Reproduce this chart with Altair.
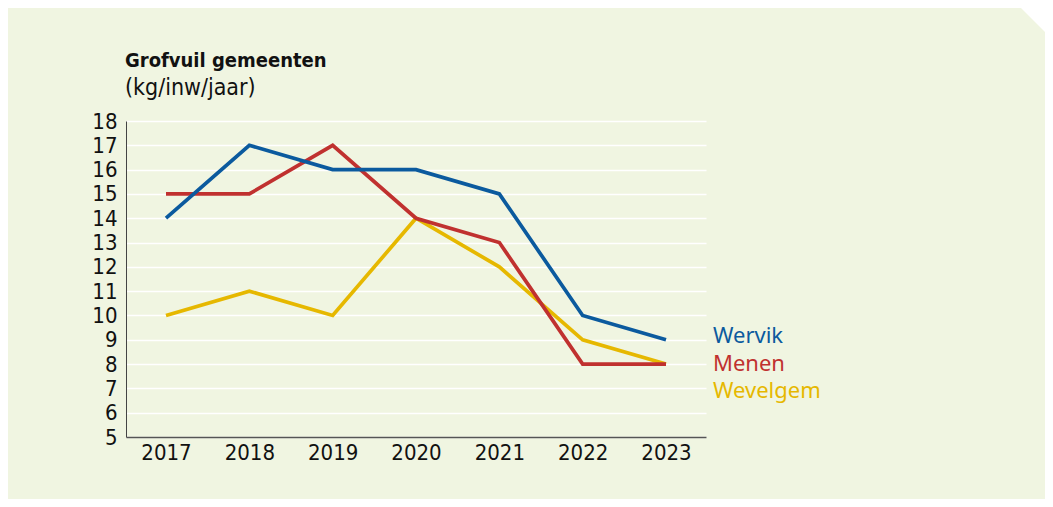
import altair as alt
import pandas as pd

years = ["2017", "2018", "2019", "2020", "2021", "2022", "2023"]
wervik = [14, 17, 16, 16, 15, 10, 9]
menen = [15, 15, 17, 14, 13, 8, 8]
wevelgem = [10, 11, 10, 14, 12, 9, 8]
series = ["Wervik", "Menen", "Wevelgem"]
colors = ["#0b5a9e", "#c0312f", "#e6b800"]

rows = []
for name, vals in [("Wevelgem", wevelgem), ("Menen", menen), ("Wervik", wervik)]:
    for yr, v in zip(years, vals):
        rows.append({"jaar": yr, "gemeente": name, "waarde": v})
df = pd.DataFrame(rows)

color_expr = " : ".join(
    f"datum.label == '{s}' ? '{c}'" for s, c in zip(series[:-1], colors[:-1])
) + f" : '{colors[-1]}'"

FONT = "DejaVu Sans Condensed"

lines = alt.Chart(df).mark_line(strokeWidth=3.7).encode(
    x=alt.X(
        "jaar:O",
        scale=alt.Scale(type="point", padding=0.48),
        axis=alt.Axis(
            title=None, labelAngle=0, ticks=False, grid=False,
            domainColor="#555555", domainWidth=1.5, labelPadding=5,
            labelFont=FONT, labelFontSize=22, labelColor="#111111", zindex=1,
        ),
    ),
    y=alt.Y(
        "waarde:Q",
        scale=alt.Scale(domain=[5, 18], nice=False, zero=False),
        axis=alt.Axis(
            title=None, values=list(range(5, 19)), ticks=False, grid=True,
            gridColor="white", gridWidth=1.5, domainColor="#444444", domainWidth=1,
            labelPadding=9, labelFont=FONT, labelFontSize=22, labelColor="#111111",
        ),
    ),
    color=alt.Color(
        "gemeente:N",
        scale=alt.Scale(domain=series, range=colors),
        legend=alt.Legend(
            title=None, orient="none", legendX=565, legendY=204,
            symbolSize=0, symbolStrokeWidth=0, symbolOpacity=0, labelOffset=0,
            labelFont="Noto Sans", labelFontSize=22, rowPadding=5.5, padding=0,
            labelColor={"expr": color_expr},
        ),
    ),
)

corner = alt.Chart(pd.DataFrame({"c": [0]})).mark_point(
    shape="M -1 -1 L 1 -1 L 1 1 Z", filled=True, color="white", opacity=1, size=576
).encode(x=alt.value(907), y=alt.value(-101))

chart = alt.layer(lines, corner).properties(
    width=580,
    height=316,
    autosize=alt.AutoSizeParams(type="none"),
    padding={"left": 118, "top": 113, "right": 339, "bottom": 62},
    background="#f0f5e1",
    title=alt.TitleParams(
        "Grofvuil gemeenten",
        subtitle="(kg/inw/jaar)",
        anchor="start", frame="group",
        font=FONT, fontSize=20, fontWeight="bold", color="#111111",
        subtitleFont=FONT, subtitleFontSize=23, subtitleColor="#111111",
        offset=10, subtitlePadding=6, dx=-1, dy=102,
    ),
).configure_view(stroke=None)

chart.save("out.html", embed_options={"renderer": "svg", "actions": False})
